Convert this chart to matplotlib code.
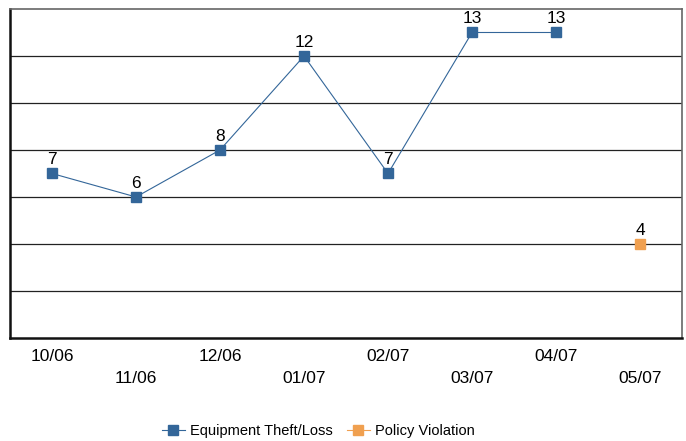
import matplotlib.pyplot as plt
import numpy as np

months = ["10/06", "11/06", "12/06", "01/07", "02/07", "03/07", "04/07", "05/07"]
theft = [7, 6, 8, 12, 7, 13, 13, np.nan]
policy = [np.nan, np.nan, np.nan, np.nan, np.nan, np.nan, np.nan, 4]

blue = "#336699"
orange = "#F0A050"

plt.rcParams["font.family"] = ["Liberation Sans", "DejaVu Sans"]

fig = plt.figure(figsize=(6.86, 4.41), dpi=100)
ax = fig.add_axes([0.0146, 0.2336, 0.9796, 0.746])

x = np.arange(len(months))
ax.plot(x, theft, color=blue, lw=0.8, marker="s", ms=7, mec=blue,
        label="Equipment Theft/Loss", zorder=3)
ax.plot(x, policy, color=orange, lw=0.8, marker="s", ms=7, mec=orange,
        label="Policy Violation", zorder=3)

for xs, ys in [(x, theft), (x, policy)]:
    for xi, yi in zip(xs, ys):
        if not np.isnan(yi):
            ax.annotate(f"{int(yi)}", (xi, yi), xytext=(0, 4.5),
                        textcoords="offset points", ha="center", va="bottom",
                        fontsize=12.5)

ax.set_xlim(-0.5, len(months) - 0.5)
ax.set_ylim(0, 14)
for g in range(2, 14, 2):
    ax.axhline(g, color="#222222", lw=0.9, zorder=1)

ax.set_yticks([])
ax.set_xticks(x)
ax.set_xticklabels(months, fontsize=12.5)
ax.tick_params(axis="x", length=0)
for i, t in enumerate(ax.xaxis.get_major_ticks()):
    t.set_pad(8 if i % 2 == 0 else 23.5)

ax.spines["left"].set_linewidth(1.8)
ax.spines["left"].set_color("#111111")
ax.spines["bottom"].set_linewidth(1.8)
ax.spines["bottom"].set_color("#111111")
ax.spines["top"].set_linewidth(1.2)
ax.spines["top"].set_color("#666666")
ax.spines["right"].set_linewidth(1.2)
ax.spines["right"].set_color("#666666")

fig.legend(loc="center", bbox_to_anchor=(0.464, 0.0227), ncol=2,
           frameon=False, fontsize=10.5, handlelength=1.6, columnspacing=0.96,
           handletextpad=0.34, borderpad=0)

fig.savefig("out.png", dpi=100)
